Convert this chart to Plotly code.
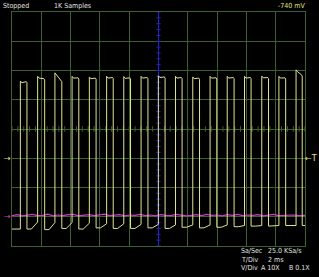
import plotly.graph_objects as go

# ---- data (oscilloscope capture, time in ms, amplitude in divisions) ----
rise_ms = [0.57, 1.75, 2.93, 4.10, 5.28, 6.46, 7.63, 8.81, 9.99, 11.16,
           12.34, 13.52, 14.69, 15.87, 17.05, 18.22, 19.39]
high_ms = [0.45, 0.48, 0.47, 0.46, 0.46, 0.45, 0.46, 0.47, 0.46, 0.45,
           0.46, 0.46, 0.47, 0.45, 0.46, 0.46, 0.42]
peak_div = [1.64, 1.80, 1.92, 1.80, 1.78, 1.80, 1.79, 1.80, 1.82, 1.80,
            1.78, 1.80, 1.80, 1.80, 1.81, 1.80, 2.02]
plateau_div = [1.62, 1.72, 1.66, 1.75, 1.74, 1.76, 1.75, 1.76, 1.78, 1.76,
               1.74, 1.75, 1.76, 1.76, 1.76, 1.75, 1.85]
low_div = [-3.42, -3.44, -3.40, -3.42, -3.38, -3.40, -3.40, -3.38, -3.40, -3.36,
           -3.38, -3.36, -3.34, -3.32, -3.32, -3.30, -3.30]
lowend_div = [-3.18, -3.20, -3.20, -3.22, -3.24, -3.24, -3.26, -3.26, -3.28, -3.28,
              -3.28, -3.28, -3.30, -3.30, -3.30, -3.30, -3.30]
start_low_div = -3.42

chb_t = [0.0, 0.35, 0.7, 1.05, 1.4, 1.75, 2.1, 2.45, 2.8, 3.15, 3.5, 3.85, 4.2,
         4.55, 4.9, 5.25, 5.6, 5.95, 6.3, 6.65, 7.0, 7.35, 7.7, 8.05, 8.4, 8.75,
         9.1, 9.45, 9.8, 10.15, 10.5, 10.85, 11.2, 11.55, 11.9, 12.25, 12.6,
         12.95, 13.3, 13.65, 14.0, 14.35, 14.7, 15.05, 15.4, 15.75, 16.1, 16.45,
         16.8, 17.15, 17.5, 17.85, 18.2, 18.55, 18.9, 19.25, 19.6, 20.0]
chb_v = [-2.96, -2.93, -2.97, -2.94, -2.92, -2.96, -2.95, -2.91, -2.97, -2.94,
         -2.96, -2.93, -2.92, -2.97, -2.95, -2.93, -2.96, -2.94, -2.91, -2.96,
         -2.95, -2.93, -2.97, -2.94, -2.95, -2.92, -2.96, -2.94, -2.97, -2.93,
         -2.95, -2.96, -2.92, -2.94, -2.97, -2.95, -2.93, -2.96, -2.92, -2.95,
         -2.94, -2.97, -2.93, -2.95, -2.92, -2.96, -2.94, -2.95, -2.93, -2.97,
         -2.94, -2.92, -2.96, -2.95, -2.93, -2.94, -2.96, -2.95]

status_texts = ["Stopped", "1K Samples"]
trig_text = "-740 mV"
info_rows = [("Sa/Sec", "25.0 KSa/s", ""), ("T/Div", "2 ms", ""), ("V/Div", "A 10X", "B 0.1X")]

# ---- build channel A polyline ----
xa, ya = [0.0], [start_low_div]
n = len(rise_ms)
for k in range(n):
    r = rise_ms[k]
    f = r + high_ms[k]
    prev_end = start_low_div if k == 0 else lowend_div[k - 1]
    xa += [r, r, r + 0.1, f - 0.05, f, f, f + 0.3]
    ya += [prev_end, peak_div[k], peak_div[k] - 0.06, plateau_div[k], plateau_div[k] - 0.04,
           low_div[k], low_div[k]]
    nxt = rise_ms[k + 1] if k + 1 < n else 20.0
    xa.append(nxt)
    ya.append(lowend_div[k])

W, H = 319, 277
L, R, T, B = 12, 305, 12, 246
grid = "rgb(62,96,46)"
blue = "rgb(35,35,200)"
yellow = "rgb(225,225,150)"
magenta = "rgb(205,60,205)"
FONT = "DejaVu Sans Condensed, Liberation Sans, Arial"

fig = go.Figure()
# center graticule ticks
minor_x = [i * 0.4 for i in range(51)]
minor_y = [-4 + i * 0.2 for i in range(41)]
fig.add_trace(go.Scatter(x=[10, 10], y=[-4, 4], mode="lines",
                         line=dict(color=blue, width=1), hoverinfo="skip"))
fig.add_trace(go.Scatter(x=minor_x, y=[0] * len(minor_x), mode="markers",
                         marker=dict(symbol="line-ns-open", size=4, color=grid,
                                     line=dict(color=grid, width=1)), hoverinfo="skip"))
fig.add_trace(go.Scatter(x=[10] * len(minor_y), y=minor_y, mode="markers",
                         marker=dict(symbol="line-ew-open", size=3, color=blue,
                                     line=dict(color=blue, width=1)), hoverinfo="skip"))
fig.add_trace(go.Scatter(x=chb_t, y=chb_v, mode="lines",
                         line=dict(color=magenta, width=1.2)))
fig.add_trace(go.Scatter(x=xa, y=ya, mode="lines",
                         line=dict(color=yellow, width=1)))

fig.update_layout(
    width=W, height=H, margin=dict(l=0, r=0, t=0, b=0),
    paper_bgcolor="black", plot_bgcolor="black", showlegend=False,
    xaxis=dict(range=[0, 20], domain=[L / W, R / W], dtick=2, tick0=0,
               showgrid=True, gridcolor=grid, gridwidth=1, zeroline=False,
               showticklabels=False, ticks="", showline=True, linecolor=grid,
               linewidth=1, mirror=True, fixedrange=True),
    yaxis=dict(range=[-4, 4], domain=[1 - B / H, 1 - T / H], dtick=1, tick0=0,
               showgrid=True, gridcolor=grid, gridwidth=1, zeroline=False,
               showticklabels=False, ticks="", showline=True, linecolor=grid,
               linewidth=1, mirror=True, fixedrange=True),
    font=dict(family=FONT, size=7, color="rgb(225,225,225)"),
)

def ann(px, py, text, color="rgb(225,225,225)", size=7, family=FONT):
    fig.add_annotation(x=px / W, y=1 - py / H, xref="paper", yref="paper",
                       text=text, showarrow=False, xanchor="left", yanchor="middle",
                       font=dict(color=color, size=size, family=family))

ann(1, 6, status_texts[0])
ann(52, 6, status_texts[1])
ann(276, 6, trig_text, color="rgb(225,225,130)")
for i, (a, b, c) in enumerate(info_rows):
    yy = 251 + i * 8.5
    ann(239, yy, a)
    ann(259 if c else 266, yy, b)
    if c:
        ann(287, yy, c)
# trigger level / ground markers
ARROWFONT = "DejaVu Sans"
ann(2, 158, "→", color=yellow, size=8, family=ARROWFONT)
ann(303, 158, "←T", color=yellow, size=8, family=ARROWFONT)
ann(2, 216, "→", color=magenta, size=8, family=ARROWFONT)

fig.write_html("out.html")
